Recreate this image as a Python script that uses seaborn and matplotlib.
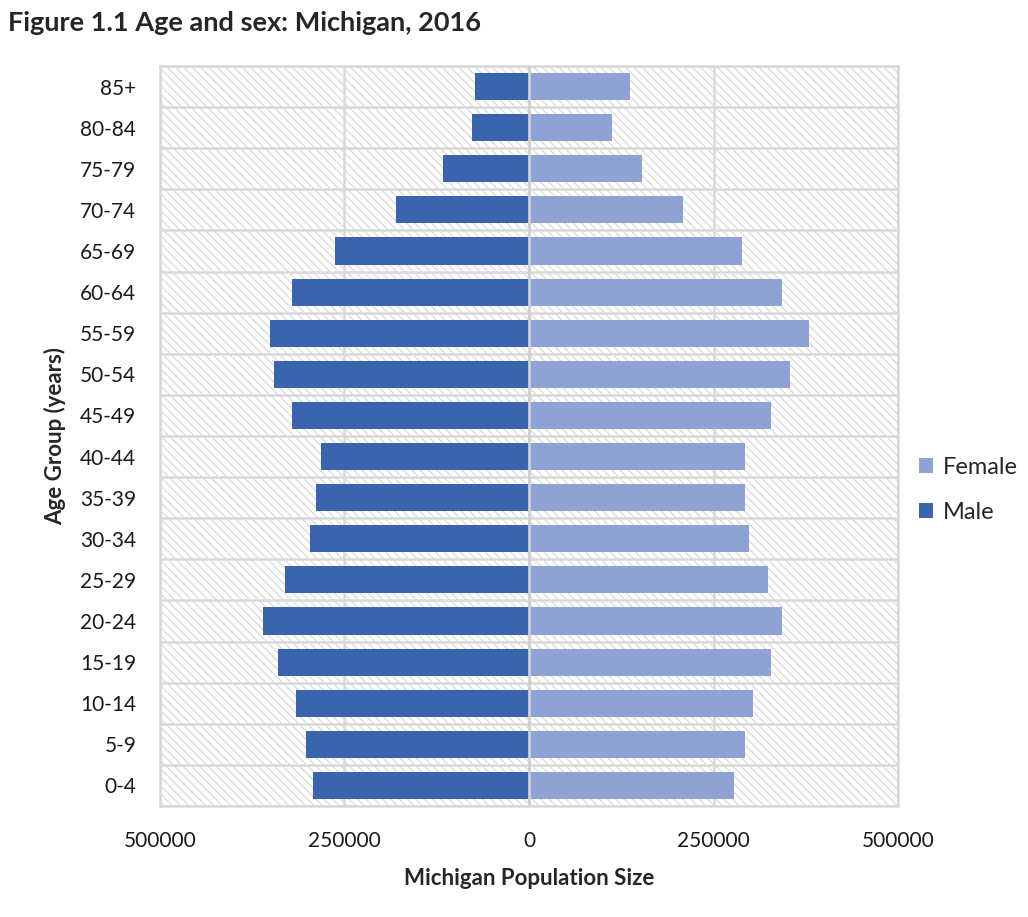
import numpy as np
import pandas as pd
import matplotlib
matplotlib.use('Agg')
import matplotlib.pyplot as plt
from matplotlib.patches import Rectangle
import seaborn as sns

# 数据
age_groups = ['85+', '80-84', '75-79', '70-74', '65-69', '60-64', '55-59', '50-54', '45-49',
              '40-44', '35-39', '30-34', '25-29', '20-24', '15-19', '10-14', '5-9', '0-4']
male = [73000, 77000, 116000, 180000, 263500, 321600, 351000, 346000, 321600,
        282400, 288000, 297300, 331000, 360800, 340500, 316000, 302700, 292000]
female = [136500, 112000, 152700, 208000, 288000, 343000, 380000, 354000, 328000,
          293000, 293000, 298600, 324000, 343000, 328000, 304000, 293000, 278400]
x_ticks = [-500000, -250000, 0, 250000, 500000]
x_tick_labels = ['500000', '250000', '0', '250000', '500000']

df = pd.DataFrame({
    'Age': age_groups * 2,
    'Population': [-v for v in male] + female,
    'Sex': ['Male'] * len(male) + ['Female'] * len(female),
})

sns.set_style('white')
plt.rcParams['font.family'] = ['Lato', 'DejaVu Sans']
plt.rcParams['hatch.linewidth'] = 0.9

fig = plt.figure(figsize=(10.28, 9.17), dpi=100)
ax = fig.add_axes([0.1556, 0.121, 0.718, 0.807])

# hatched plot-area background (Excel pattern fill)
ax.add_patch(Rectangle((0, 0), 1, 1, transform=ax.transAxes, facecolor='white',
                       edgecolor='#dadada', linewidth=0, hatch='\\' * 4, zorder=0))

sns.barplot(data=df, x='Population', y='Age', hue='Sex', order=age_groups,
            hue_order=['Female', 'Male'], palette=['#8FA2D4', '#3A64AD'],
            dodge=False, width=0.66, orient='h', saturation=1, linewidth=0,
            ax=ax, zorder=3)

ax.set_xlim(-500000, 500000)
ax.set_ylim(len(age_groups) - 0.5, -0.5)
ax.set_xticks(x_ticks)
ax.set_xticklabels(x_tick_labels)
ax.set_yticks(np.arange(-0.5, len(age_groups)), minor=True)
ax.grid(True, axis='x', color='#d9d9d9', linewidth=1.8, zorder=1)
ax.grid(True, axis='y', which='minor', color='#d9d9d9', linewidth=1.8, zorder=1)
ax.grid(False, axis='y', which='major')
ax.set_axisbelow(True)
ax.axvline(0, color='#d0d0d0', linewidth=2, zorder=4)
ax.tick_params(axis='both', which='both', length=0, labelsize=15, colors='#1a1a1a')
ax.tick_params(axis='x', pad=18)
ax.tick_params(axis='y', pad=17)
for s in ax.spines.values():
    s.set_color('#d9d9d9')
    s.set_linewidth(1.8)

ax.set_xlabel('Michigan Population Size', fontsize=16, fontweight='bold', labelpad=12)
ax.set_ylabel('Age Group (years)', fontsize=16, fontweight='bold', labelpad=10)

ax.legend(loc='center left', bbox_to_anchor=(1.0, 0.427), frameon=False, fontsize=17,
          handlelength=0.6, handleheight=0.6, handletextpad=0.4, labelspacing=1.0)

fig.text(0.008, 0.975, 'Figure 1.1 Age and sex: Michigan, 2016', fontsize=19.5,
         fontweight='bold', ha='left', va='center')

plt.savefig('out.png', dpi=100)
plt.close()
